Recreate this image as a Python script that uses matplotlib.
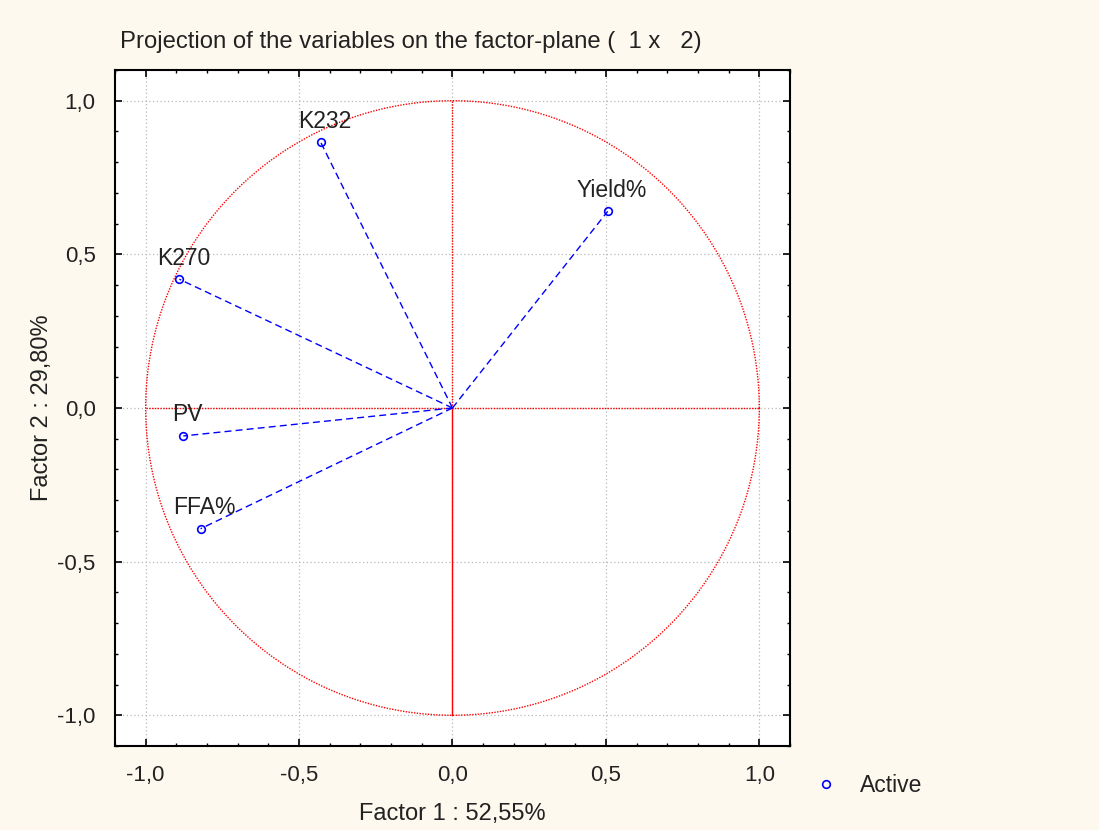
import numpy as np
import matplotlib

matplotlib.use("Agg")
import matplotlib.pyplot as plt
from matplotlib.ticker import FuncFormatter, MultipleLocator

variables = ["K232", "Yield%", "K270", "PV", "FFA%"]
factor1 = [-0.429, 0.506, -0.890, -0.877, -0.821]
factor2 = [0.864, 0.640, 0.419, -0.091, -0.393]

title = "Projection of the variables on the factor-plane (  1 x   2)"
xlabel = "Factor 1 : 52,55%"
ylabel = "Factor 2 : 29,80%"

plt.rcParams["font.family"] = ["Liberation Sans", "DejaVu Sans"]
text_color = "#222222"


def comma_fmt(v, pos):
    return f"{v:.1f}".replace(".", ",")


fig = plt.figure(figsize=(10.99, 8.3), dpi=100, facecolor="#fef9ee")
ax = fig.add_axes([0.1046, 0.1012, 0.6142, 0.8145])
ax.set_facecolor("white")
ax.set_xlim(-1.1, 1.1)
ax.set_ylim(-1.1, 1.1)

# unit circle and cross
theta = np.linspace(0, 2 * np.pi, 400)
ax.plot(np.cos(theta), np.sin(theta), color="red", linestyle=(0, (1, 1)), lw=1.0, zorder=2)
ax.plot([-1, 1], [0, 0], color="red", linestyle=(0, (1, 1)), lw=1.0, zorder=2)
ax.plot([0, 0], [0, 1], color="red", linestyle=(0, (1, 1)), lw=1.0, zorder=2)
ax.plot([0, 0], [-1, 0], color="red", linestyle="-", lw=1.0, zorder=2)

# variable vectors
for name, fx, fy in zip(variables, factor1, factor2):
    ax.plot([0, fx], [0, fy], color="blue", linestyle=(0, (5, 3)), lw=1.0, zorder=3)
    ax.annotate(name, (fx, fy), xytext=(4, 21), textcoords="offset pixels",
                ha="center", va="center", fontsize=16.5, color=text_color, zorder=4)

ax.plot(factor1, factor2, linestyle="none", marker="o", markersize=5.5,
        markerfacecolor="none", markeredgecolor="blue", markeredgewidth=1.2,
        label="Active", zorder=4)

ax.xaxis.set_major_locator(MultipleLocator(0.5))
ax.yaxis.set_major_locator(MultipleLocator(0.5))
ax.xaxis.set_minor_locator(MultipleLocator(0.1))
ax.yaxis.set_minor_locator(MultipleLocator(0.1))
ax.xaxis.set_major_formatter(FuncFormatter(comma_fmt))
ax.yaxis.set_major_formatter(FuncFormatter(comma_fmt))
ax.tick_params(which="both", direction="in", top=True, right=True,
               labelsize=16, labelcolor=text_color)
ax.tick_params(which="major", length=5, width=1.2, pad=14)
ax.tick_params(which="minor", length=2.5, width=1.0)
ax.grid(True, which="major", color="#b8b8b8", linestyle=(0, (1, 2)), lw=0.9, zorder=1)
for s in ax.spines.values():
    s.set_linewidth(1.5)
    s.set_color("black")

ax.set_title(title, fontsize=17.2, color=text_color, pad=16, loc="left", x=0.007)
ax.set_xlabel(xlabel, fontsize=17, color=text_color, labelpad=12)
ax.set_ylabel(ylabel, fontsize=17, color=text_color, labelpad=3)

fig.legend(loc="center left", bbox_to_anchor=(0.712, 0.054), frameon=False,
           fontsize=16.5, handletextpad=0.5, labelcolor=text_color)

fig.savefig("out.png", dpi=100, facecolor=fig.get_facecolor())
